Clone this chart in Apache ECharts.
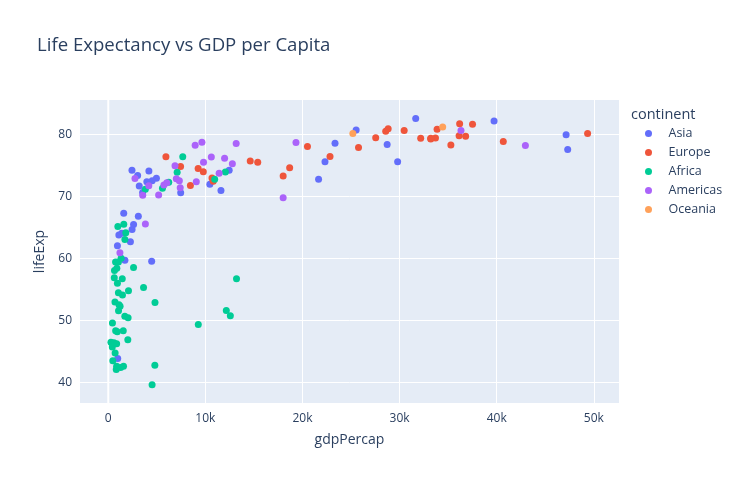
<!DOCTYPE html>
<html>
<head>
<meta charset="utf-8">
<script src="https://cdn.jsdelivr.net/npm/echarts@6/dist/echarts.min.js"></script>
<style>html,body{margin:0;padding:0;background:#fff}#c{width:743px;height:484px}</style>
</head>
<body>
<div id="c"></div>
<script>
// [gdpPercap, lifeExp]
const asia = [[974.58,43.828],[29796.05,75.635],[1391.25,64.062],[1713.78,59.723],[4959.11,72.961],[39724.98,82.208],[2452.21,64.698],[3540.65,70.65],[11605.71,70.964],[4471.06,59.545],[25523.28,80.745],[31656.07,82.603],[4519.46,72.535],[1593.07,67.297],[23348.14,78.623],[47306.99,77.588],[10461.06,71.993],[12451.66,74.241],[3095.77,66.803],[944.0,62.069],[1091.36,63.785],[22316.19,75.64],[2605.95,65.483],[3190.48,71.688],[21654.83,72.777],[47143.18,79.972],[3970.10,72.396],[4184.55,74.143],[28718.28,78.4],[7458.40,70.616],[2441.58,74.249],[3025.35,73.422],[2280.77,62.698]];
const europe = [[5937.03,76.423],[36126.49,79.829],[33692.61,79.441],[7446.30,74.852],[10680.79,73.005],[14619.22,75.748],[22833.31,76.486],[35278.42,78.332],[33207.08,79.313],[30470.02,80.657],[32170.37,79.406],[27538.41,79.483],[18008.94,73.338],[36180.79,81.757],[40675.0,78.885],[28569.72,80.546],[9253.90,74.543],[36797.93,79.762],[49357.19,80.196],[15389.92,75.563],[20509.65,78.098],[10808.48,72.476],[9786.53,74.002],[18678.31,74.663],[25768.26,77.926],[28821.06,80.941],[33859.75,80.884],[37506.42,81.701],[8458.28,71.777],[33203.26,79.425]];
const africa = [[6223.37,72.301],[4797.23,42.731],[1441.28,56.728],[12569.85,50.728],[1217.03,52.295],[430.07,49.58],[2042.10,50.43],[706.02,44.741],[1704.06,50.651],[986.15,65.152],[277.55,46.462],[3632.56,55.322],[1544.75,48.328],[2082.48,54.791],[5581.18,71.338],[12154.09,51.579],[641.37,58.04],[690.81,52.947],[13206.48,56.735],[752.75,59.448],[1327.61,60.022],[942.65,56.007],[579.23,46.388],[1463.25,54.11],[1569.33,42.592],[414.51,45.678],[12057.50,73.952],[1044.77,59.443],[759.35,48.303],[1042.58,54.467],[1803.15,64.164],[10956.99,72.801],[3820.18,71.164],[823.69,42.082],[4811.06,52.906],[619.68,56.867],[2013.98,46.859],[7670.12,76.442],[863.09,46.242],[1598.44,65.528],[1712.47,63.062],[862.54,42.568],[926.14,48.159],[9269.66,49.339],[2602.39,58.556],[4513.48,39.613],[1107.48,52.517],[882.97,58.42],[7092.92,73.923],[1056.38,51.542],[1271.21,42.384],[469.71,43.487]];
const americas = [[12779.38,75.32],[3822.14,65.554],[9065.80,72.39],[36319.24,80.653],[13171.64,78.553],[7006.58,72.889],[9645.06,78.782],[8948.10,78.273],[6025.37,72.235],[6873.26,74.994],[5728.35,71.878],[5186.05,70.259],[1201.64,60.916],[3548.33,70.198],[7320.88,72.567],[11977.57,76.195],[2749.32,72.899],[9809.19,75.537],[4172.84,71.752],[7408.91,71.421],[19328.71,78.746],[18008.51,69.819],[42951.65,78.242],[10611.46,76.384],[11415.81,73.747]];
const oceania = [[34435.37,81.235],[25185.01,80.204]];

const continents = ['Asia','Europe','Africa','Americas','Oceania'];
const seriesData = [asia, europe, africa, americas, oceania];
const colors = ['#636efa','#EF553B','#00cc96','#ab63fa','#FFA15A'];
const xTicks = [0,10000,20000,30000,40000,50000];
const yTicks = [40,50,60,70,80];

const font = '"Open Sans", "Noto Sans", sans-serif';
const ink = '#2a3f5f';
const chart = echarts.init(document.getElementById('c'), null, {renderer:'canvas'});
chart.setOption({
  animation: false,
  backgroundColor: '#fff',
  title: [
    {text: 'Life Expectancy vs GDP per Capita', left: 32, top: 31,
     textStyle: {fontFamily: font, fontSize: 18.6, fontWeight: 'normal', color: ink}},
    {text: 'continent', left: 626, top: 102,
     textStyle: {fontFamily: font, fontSize: 14.5, fontWeight: 'normal', color: ink}}
  ],
  legend: {
    data: continents, orient: 'vertical', left: 645, top: 124,
    icon: 'circle', itemWidth: 30, itemHeight: 7, itemGap: 0,
    textStyle: {fontFamily: font, fontSize: 12.5, color: ink, lineHeight: 19, height: 19},
    padding: 0
  },
  grid: {left: 80, right: 124, top: 100, bottom: 81, containLabel: false,
         show: true, backgroundColor: '#E5ECF6', borderWidth: 0},
  xAxis: {
    type: 'value', min: -2910, max: 52590,
    name: 'gdpPercap', nameLocation: 'middle', nameGap: 30,
    nameTextStyle: {fontFamily: font, fontSize: 14, color: ink},
    axisLine: {show: false},
    axisTick: {show: false, customValues: xTicks},
    axisLabel: {customValues: xTicks, fontFamily: font, fontSize: 12, color: ink, margin: 10,
                formatter: v => v === 0 ? '0' : (v/1000) + 'k'},
    splitLine: {show: true, lineStyle: {color: '#fff', width: 1}}
  },
  yAxis: {
    type: 'value', min: 36.65, max: 85.6,
    name: 'lifeExp', nameLocation: 'middle', nameGap: 33,
    nameTextStyle: {fontFamily: font, fontSize: 14, color: ink},
    axisLine: {show: false},
    axisTick: {show: false, customValues: yTicks},
    axisLabel: {customValues: yTicks, fontFamily: font, fontSize: 12, color: ink, margin: 8},
    splitLine: {show: true, lineStyle: {color: '#fff', width: 1}}
  },
  series: continents.map((c, i) => ({
    name: c, type: 'scatter', data: seriesData[i], symbolSize: 7,
    itemStyle: {color: colors[i], opacity: 1}
  })).concat([{
    type: 'line', data: [[0, 36.65],[0, 85.6]], symbol: 'none', silent: true,
    lineStyle: {color: '#fff', width: 2}, z: 1
  }])
});
</script>
</body>
</html>
